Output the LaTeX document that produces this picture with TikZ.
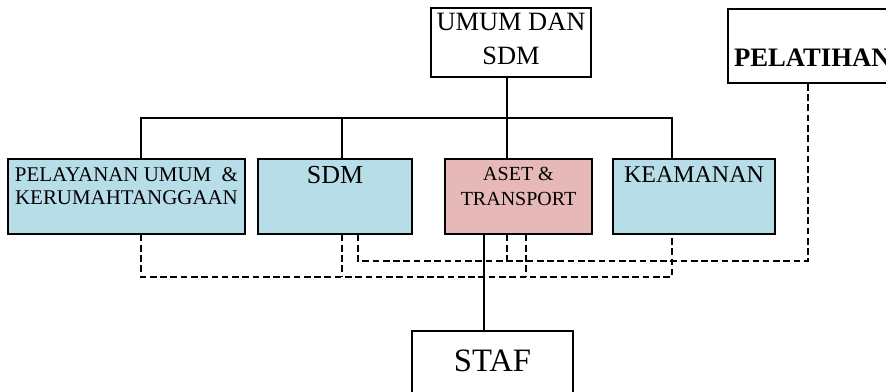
\documentclass[tikz,border=0pt]{standalone}
\usepackage{fontspec}
\setmainfont{Liberation Serif}
\usetikzlibrary{positioning}

\definecolor{unitblue}{HTML}{B7DDE8}
\definecolor{unitpink}{HTML}{E6B8B7}

\begin{document}
\begin{tikzpicture}[
        x = 0.75pt, y = -0.75pt, % pixel grid, y runs downwards
        line width = 0.9pt, % line style
        link/.style = {dashed, dash pattern = on 5pt off 2.7pt} % coordination lines
    ]

    \tikzstyle{box}=[draw = black, rectangle, inner sep = 0pt,
    minimum height = 56.25pt]
    \tikzstyle{txt}=[inner sep = 0pt, align = center]

    \useasboundingbox (0,0) rectangle (886,392);
    \clip (0,0) rectangle (886,392);

    % boxes
    \node (umum) [box, minimum width = 120pt, minimum height = 51.75pt] at (511,42.5) {};
    \node (pelatihan) [box, minimum width = 129pt, minimum height = 55.5pt] at (814,46) {};
    \node (pelayanan) [box, fill = unitblue, minimum width = 177.75pt] at (126.5,196.5) {};
    \node (sdm) [box, fill = unitblue, minimum width = 115.5pt] at (335,196.5) {};
    \node (aset) [box, fill = unitpink, minimum width = 110.25pt] at (518.5,196.5) {};
    \node (keamanan) [box, fill = unitblue, minimum width = 121.5pt] at (694,196.5) {};
    \node (staf) [box, minimum width = 120.75pt] at (492.5,368.5) {};

    % texts
    \node (umum-t) [txt, font = \fontsize{19.8}{25.5}\selectfont,
    below = 3.75pt of umum.north] {UMUM DAN\\SDM};
    \node (pelatihan-t) [txt, font = \bfseries\fontsize{20}{22}\selectfont,
    below right = 30pt and 4.5pt of pelatihan.north west] {PELATIHAN};
    \node (pelayanan-t) [txt, font = \fontsize{15.7}{17.3}\selectfont,
    below = 6.75pt of pelayanan.north] {PELAYANAN UMUM \ \&\\KERUMAHTANGGAAN};
    \node (sdm-t) [txt, font = \fontsize{19.5}{22}\selectfont,
    below = 5.8pt of sdm.north] {SDM};
    \node (aset-t) [txt, font = \fontsize{15}{18.75}\selectfont,
    below = 6.5pt of aset.north] {ASET \&\\TRANSPORT};
    \node (keamanan-t) [txt, font = \fontsize{18}{20}\selectfont,
    below = 5.8pt of keamanan.north] {KEAMANAN};
    \node (staf-t) [txt, font = \fontsize{24.5}{27}\selectfont,
    below = 14pt of staf.north] {STAF};

    % solid lines
    \coordinate (bus1) at (141,118); \coordinate (bus2) at (342,118);
    \coordinate (bus3) at (507,118); \coordinate (bus4) at (672,118);
    \coordinate (feed) at (484,300);

    \draw (umum.south -| bus3) -- (aset.north -| bus3);
    \draw (pelayanan.north -| bus1) -- (bus1) -- (bus4) -- (keamanan.north -| bus4);
    \draw (sdm.north -| bus2) -- (bus2);
    \draw (aset.south -| feed) -- (staf.north -| feed);

    % dashed lines
    \coordinate (low1) at (141,277); \coordinate (low2) at (342,277);
    \coordinate (low3) at (526,277); \coordinate (low4) at (672,277);
    \coordinate (high1) at (358,261); \coordinate (high2) at (507,261);
    \coordinate (high3) at (808,261);

    \draw[link] (pelayanan.south -| low1) -- (low1) -- (low4) -- (keamanan.south -| low4);
    \draw[link] (sdm.south -| low2) -- (low2);
    \draw[link] (aset.south -| low3) -- (low3);
    \draw[link] (sdm.south -| high1) -- (high1) -- (high3) -- (pelatihan.south -| high3);
    \draw[link] (aset.south -| high2) -- (high2);

\end{tikzpicture}
\end{document}
